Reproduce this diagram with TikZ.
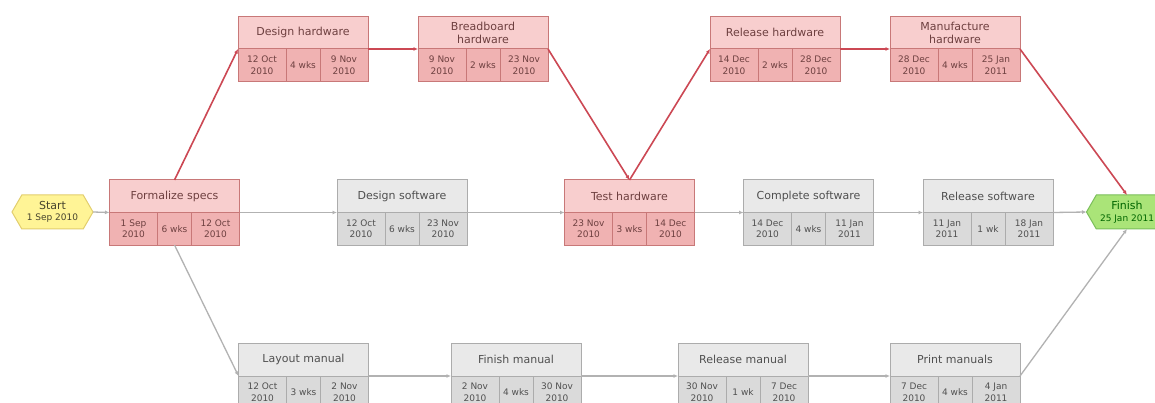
\documentclass[tikz,border=0pt]{standalone}
\usepackage{fontspec}
\setmainfont{DejaVu Sans}
\usetikzlibrary{calc,arrows.meta,shapes.symbols}

\definecolor{critHead}{RGB}{248,206,206}
\definecolor{critCell}{RGB}{240,178,178}
\definecolor{critLine}{RGB}{200,120,120}
\definecolor{critText}{RGB}{110,64,64}
\definecolor{critLink}{RGB}{204,72,84}
\definecolor{plainHead}{RGB}{233,233,233}
\definecolor{plainCell}{RGB}{218,218,218}
\definecolor{plainLine}{RGB}{172,172,172}
\definecolor{plainText}{RGB}{80,80,80}
\definecolor{plainLink}{RGB}{178,178,178}
\definecolor{startFill}{RGB}{255,244,150}
\definecolor{startLine}{RGB}{226,206,110}
\definecolor{finishFill}{RGB}{170,228,120}
\definecolor{finishLine}{RGB}{122,190,90}

\newcommand{\titlefont}{\fontsize{11}{12.5}\selectfont}
\newcommand{\cellfont}{\fontsize{9}{11.5}\selectfont}

% #1 crit/plain, #2 name, #3 centre, #4 title, #5 start, #6 duration, #7 end
\newcommand{\pertTask}[7]{%
  \node[taskbox] (#2) at (#3) {};
  \fill[#1 head] (#2.north west) rectangle (#2.east);
  \fill[#1 cell] (#2.west) rectangle (#2.south east);
  \draw[#1 line] (#2.north west) rectangle (#2.south east)
    (#2.west) -- (#2.east)
    ($(#2.west)+(48,0)$) -- ($(#2.south west)+(48,0)$)
    ($(#2.west)+(82,0)$) -- ($(#2.south west)+(82,0)$);
  \node[#1 text, font=\titlefont] at ($(#2.north)!.5!(#2.center)$) {#4};
  \node[#1 text, font=\cellfont] at ($(#2.west)!.5!(#2.south west)+(24,0)$) {#5};
  \node[#1 text, font=\cellfont] at ($(#2.west)!.5!(#2.south west)+(65,0)$) {#6};
  \node[#1 text, font=\cellfont] at ($(#2.east)!.5!(#2.south east)+(-24,0)$) {#7};
}

\tikzset{
  >={Latex[length=4.5pt,width=4pt]},
  taskbox/.style={minimum width=130pt, minimum height=65pt, inner sep=0pt, outer sep=0pt},
  crit head/.style={fill=critHead},
  crit cell/.style={fill=critCell},
  crit line/.style={draw=critLine, line width=1pt},
  crit text/.style={text=critText, align=center, inner sep=0pt},
  plain head/.style={fill=plainHead},
  plain cell/.style={fill=plainCell},
  plain line/.style={draw=plainLine, line width=1pt},
  plain text/.style={text=plainText, align=center, inner sep=0pt},
  milestone/.style={shape=signal, signal to=east and west, signal pointer angle=120,
    minimum width=81pt, minimum height=34pt, inner sep=1pt, outer sep=0pt,
    align=center, line width=1pt, font=\cellfont},
  crit link/.style={->, draw=critLink, line width=1.6pt},
  plain link/.style={->, draw=plainLink, line width=1.3pt},
}

\begin{document}
\begin{tikzpicture}[x=1pt,y=-1pt]
\clip (0,0) rectangle (1155,403);
\fill[white] (0,0) rectangle (1155,403);

% milestones
\node[milestone, fill=startFill, draw=startLine, text=black!65!olive] (start) at (52.5,212)
  {{\fontsize{11}{12}\selectfont Start}\\1 Sep 2010};
\node[milestone, fill=finishFill, draw=finishLine, text=black!60!green] (finish) at (1127,212)
  {{\fontsize{11}{12}\selectfont Finish}\\25 Jan 2011};

% tasks, top row
\pertTask{crit}{deshw}{303,49}{Design hardware}{12 Oct\\2010}{4 wks}{9 Nov\\2010}
\pertTask{crit}{breadhw}{483,49}{Breadboard\\hardware}{9 Nov\\2010}{2 wks}{23 Nov\\2010}
\pertTask{crit}{relhw}{775,49}{Release hardware}{14 Dec\\2010}{2 wks}{28 Dec\\2010}
\pertTask{crit}{manhw}{955,49}{Manufacture\\hardware}{28 Dec\\2010}{4 wks}{25 Jan\\2011}
% tasks, middle row
\pertTask{crit}{specs}{174.5,212.5}{Formalize specs}{1 Sep\\2010}{6 wks}{12 Oct\\2010}
\pertTask{plain}{dessw}{402,212.5}{Design software}{12 Oct\\2010}{6 wks}{23 Nov\\2010}
\pertTask{crit}{testhw}{629.5,212.5}{Test hardware}{23 Nov\\2010}{3 wks}{14 Dec\\2010}
\pertTask{plain}{compsw}{808.5,212.5}{Complete software}{14 Dec\\2010}{4 wks}{11 Jan\\2011}
\pertTask{plain}{relsw}{988,212.5}{Release software}{11 Jan\\2011}{1 wk}{18 Jan\\2011}
% tasks, bottom row
\pertTask{plain}{layman}{303.5,376}{Layout manual}{12 Oct\\2010}{3 wks}{2 Nov\\2010}
\pertTask{plain}{finman}{516,376}{Finish manual}{2 Nov\\2010}{4 wks}{30 Nov\\2010}
\pertTask{plain}{relman}{743,376}{Release manual}{30 Nov\\2010}{1 wk}{7 Dec\\2010}
\pertTask{plain}{prtman}{955,376}{Print manuals}{7 Dec\\2010}{4 wks}{4 Jan\\2011}

% links
\draw[plain link] (start.east) -- (specs.west);
\draw[plain link] (specs.east) -- (dessw.west);
\draw[plain link] (dessw.east) -- (testhw.west);
\draw[plain link] (testhw.east) -- (compsw.west);
\draw[plain link] (compsw.east) -- (relsw.west);
\draw[plain link] (relsw.east) -- (finish.west);
\draw[plain link] (specs.south) -- (layman.west);
\draw[plain link] (layman.east) -- (finman.west);
\draw[plain link] (finman.east) -- (relman.west);
\draw[plain link] (relman.east) -- (prtman.west);
\draw[plain link] (prtman.east) -- (finish.south);
\draw[crit link] (specs.north) -- (deshw.west);
\draw[crit link] (deshw.east) -- (breadhw.west);
\draw[crit link] (breadhw.east) -- (testhw.north);
\draw[crit link] (testhw.north) -- (relhw.west);
\draw[crit link] (relhw.east) -- (manhw.west);
\draw[crit link] (manhw.east) -- (finish.north);
\end{tikzpicture}
\end{document}
